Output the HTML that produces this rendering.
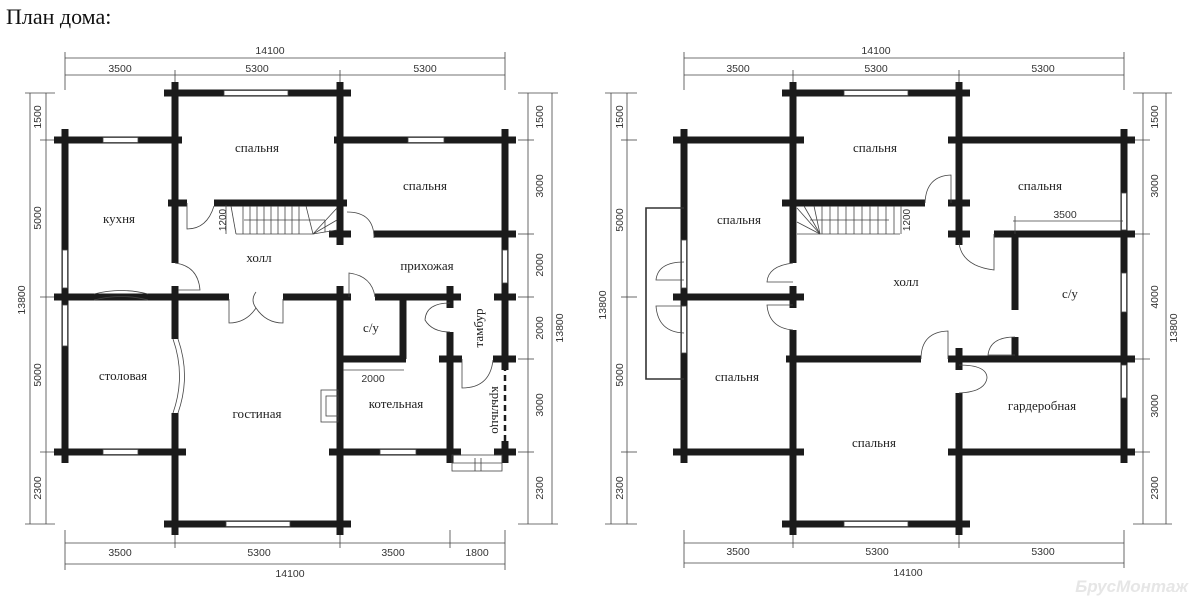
<!DOCTYPE html>
<html><head><meta charset="utf-8"><style>
html,body{margin:0;padding:0;background:#fff;width:1200px;height:603px;overflow:hidden}
svg{display:block}
.w{stroke:#1b1b1b;stroke-width:7;fill:none}
.t{stroke:#444;stroke-width:.8;fill:none}
.win{fill:#fff;stroke:#444;stroke-width:.8}
.d{font-family:"Liberation Sans",sans-serif;font-size:10.5px;fill:#333;text-anchor:middle}
.l{font-family:"Liberation Serif","DejaVu Serif",serif;font-size:13px;fill:#222;text-anchor:middle}
</style></head><body>
<svg width="1200" height="603" viewBox="0 0 1200 603" xmlns="http://www.w3.org/2000/svg">
<defs><g id="p"><rect x="-3.5" y="-11" width="7" height="22" fill="#1b1b1b"/><rect x="-11" y="-3.5" width="22" height="7" fill="#1b1b1b"/></g></defs>
<text x="6" y="24" style="font-family:'Liberation Serif',serif;font-size:22px;fill:#111">План дома:</text>

<g>
<line class="t" x1="65" y1="58" x2="505" y2="58"/><line class="t" x1="65" y1="75" x2="505" y2="75"/>
<g class="t"><line x1="65" y1="52" x2="65" y2="90"/><line x1="175" y1="70" x2="175" y2="90"/><line x1="340" y1="70" x2="340" y2="90"/><line x1="505" y1="52" x2="505" y2="90"/></g>
<text class="d" x="270" y="54">14100</text><text class="d" x="120" y="72">3500</text><text class="d" x="257" y="72">5300</text><text class="d" x="425" y="72">5300</text>
<line class="t" x1="65" y1="543" x2="505" y2="543"/><line class="t" x1="65" y1="564" x2="505" y2="564"/>
<g class="t"><line x1="65" y1="530" x2="65" y2="570"/><line x1="175" y1="530" x2="175" y2="548"/><line x1="340" y1="530" x2="340" y2="548"/><line x1="450" y1="530" x2="450" y2="548"/><line x1="505" y1="530" x2="505" y2="570"/></g>
<text class="d" x="120" y="556">3500</text><text class="d" x="259" y="556">5300</text><text class="d" x="393" y="556">3500</text><text class="d" x="477" y="556">1800</text><text class="d" x="290" y="577">14100</text>
<line class="t" x1="30" y1="93" x2="30" y2="524"/><line class="t" x1="46" y1="93" x2="46" y2="524"/>
<g class="t"><line x1="25" y1="93" x2="55" y2="93"/><line x1="40" y1="140" x2="58" y2="140"/><line x1="40" y1="297" x2="58" y2="297"/><line x1="40" y1="452" x2="58" y2="452"/><line x1="25" y1="524" x2="55" y2="524"/></g>
<g class="d"><text transform="translate(41,117) rotate(-90)">1500</text><text transform="translate(41,218) rotate(-90)">5000</text><text transform="translate(41,375) rotate(-90)">5000</text><text transform="translate(41,488) rotate(-90)">2300</text><text transform="translate(25,300) rotate(-90)">13800</text></g>
<line class="t" x1="528" y1="93" x2="528" y2="524"/><line class="t" x1="552" y1="93" x2="552" y2="524"/>
<g class="t"><line x1="518" y1="93" x2="558" y2="93"/><line x1="518" y1="140" x2="534" y2="140"/><line x1="518" y1="234" x2="534" y2="234"/><line x1="518" y1="297" x2="534" y2="297"/><line x1="518" y1="359" x2="534" y2="359"/><line x1="518" y1="452" x2="534" y2="452"/><line x1="518" y1="524" x2="558" y2="524"/></g>
<g class="d"><text transform="translate(543,117) rotate(-90)">1500</text><text transform="translate(543,186) rotate(-90)">3000</text><text transform="translate(543,265) rotate(-90)">2000</text><text transform="translate(543,328) rotate(-90)">2000</text><text transform="translate(543,405) rotate(-90)">3000</text><text transform="translate(543,488) rotate(-90)">2300</text><text transform="translate(563,328) rotate(-90)">13800</text></g>

<g class="w">
<line x1="168" y1="93" x2="347" y2="93"/>
<line x1="59" y1="140" x2="182" y2="140"/><line x1="334" y1="140" x2="513" y2="140"/>
<line x1="65" y1="140" x2="65" y2="452"/>
<line x1="175" y1="93" x2="175" y2="263"/><line x1="175" y1="290" x2="175" y2="339"/><line x1="175" y1="413" x2="175" y2="524"/>
<line x1="168" y1="203" x2="187" y2="203"/><line x1="214" y1="203" x2="347" y2="203"/>
<line x1="340" y1="93" x2="340" y2="243"/><line x1="340" y1="290" x2="340" y2="524"/>
<line x1="374" y1="234" x2="513" y2="234"/>
<line x1="505" y1="140" x2="505" y2="359"/>
<line x1="59" y1="297" x2="229" y2="297"/><line x1="283" y1="297" x2="347" y2="297"/><line x1="375" y1="297" x2="458" y2="297"/>
<line x1="403" y1="297" x2="403" y2="359"/><line x1="340" y1="359" x2="406" y2="359"/>
<line x1="450" y1="332" x2="450" y2="456"/><line x1="443" y1="359" x2="462" y2="359"/><line x1="493" y1="359" x2="513" y2="359"/>
<line x1="59" y1="452" x2="182" y2="452"/><line x1="334" y1="452" x2="457" y2="452"/><line x1="498" y1="452" x2="513" y2="452"/>
<line x1="168" y1="524" x2="347" y2="524"/>
</g>
<g>
<use href="#p" x="65" y="140"/><use href="#p" x="175" y="93"/><use href="#p" x="340" y="93"/><use href="#p" x="505" y="140"/>
<use href="#p" x="340" y="234"/><use href="#p" x="505" y="234"/><use href="#p" x="65" y="297"/><use href="#p" x="175" y="297"/>
<use href="#p" x="340" y="297"/><use href="#p" x="450" y="297"/><use href="#p" x="505" y="297"/><use href="#p" x="450" y="359"/><use href="#p" x="505" y="359"/>
<use href="#p" x="65" y="452"/><use href="#p" x="175" y="452"/><use href="#p" x="340" y="452"/><use href="#p" x="450" y="452"/><use href="#p" x="505" y="452"/>
<use href="#p" x="175" y="524"/><use href="#p" x="340" y="524"/>
</g>
<rect class="win" x="224" y="90.5" width="64" height="5"/>
<rect class="win" x="103" y="137.5" width="35" height="5"/><rect class="win" x="408" y="137.5" width="36" height="5"/>
<rect class="win" x="62.5" y="250" width="5" height="38"/><rect class="win" x="62.5" y="305" width="5" height="41"/>
<rect class="win" x="502.5" y="250" width="5" height="33"/>
<rect class="win" x="103" y="449.5" width="35" height="5"/><rect class="win" x="380" y="449.5" width="36" height="5"/>
<rect class="win" x="226" y="521.5" width="64" height="5"/>
<path class="t" d="M94 294 Q121 287 148 294 M94 300 Q121 293 148 300"/>
<path class="t" d="M173 339 Q186 376 173 413 M178 339 Q191 376 178 413"/>
<line x1="505" y1="365" x2="505" y2="448" stroke="#1b1b1b" stroke-width="2.5" stroke-dasharray="6,4"/>
<path class="t" d="M187 203 L187 229 Q207 229 214 206"/>
<path class="t" d="M175 263 Q198 266 200 290 L178 290"/>
<path class="t" d="M229 299 L229 323 Q246 323 256 308 Q266 323 283 323 L283 299 M256 308 Q250 300 256 292"/>
<path class="t" d="M347 212 Q374 212 374 238"/>
<path class="t" d="M349 297 L349 273 Q372 276 375 297"/>
<path class="t" d="M450 303 Q426 303 425 320 Q432 332 450 332"/>
<path class="t" d="M462 359 L462 388 Q490 388 493 360"/>
<g class="t">
<line x1="236" y1="234" x2="313" y2="234"/><line x1="231" y1="206" x2="236" y2="234"/><line x1="226" y1="205" x2="226" y2="234"/>
<line x1="243" y1="206" x2="243" y2="234"/><line x1="250" y1="206" x2="250" y2="234"/><line x1="257" y1="206" x2="257" y2="234"/><line x1="264" y1="206" x2="264" y2="234"/><line x1="271" y1="206" x2="271" y2="234"/><line x1="278" y1="206" x2="278" y2="234"/><line x1="285" y1="206" x2="285" y2="234"/><line x1="292" y1="206" x2="292" y2="234"/><line x1="299" y1="206" x2="299" y2="234"/>
<line x1="313" y1="234" x2="306" y2="206"/><line x1="313" y1="234" x2="337" y2="208"/><line x1="313" y1="234" x2="337" y2="220"/><line x1="313" y1="234" x2="337" y2="230"/>
<line x1="244" y1="220" x2="325" y2="220"/><line x1="325" y1="220" x2="325" y2="232"/>
</g>
<text class="d" transform="translate(226,220) rotate(-90)" style="font-size:10px">1200</text>
<line class="t" x1="343" y1="370" x2="404" y2="370"/>
<text class="d" x="373" y="382">2000</text>
<rect class="t" x="321" y="390" width="17" height="32"/><rect class="t" x="326" y="396" width="12" height="20"/>
<rect class="t" x="452" y="455" width="50" height="16"/><line class="t" x1="452" y1="463" x2="502" y2="463"/><line class="t" x1="475" y1="458" x2="475" y2="471"/><line class="t" x1="481" y1="458" x2="481" y2="471"/>
<text class="l" x="257" y="152">спальня</text><text class="l" x="425" y="190">спальня</text><text class="l" x="119" y="223">кухня</text>
<text class="l" x="259" y="262">холл</text><text class="l" x="427" y="270">прихожая</text><text class="l" x="371" y="332">с/у</text>
<text class="l" x="123" y="380">столовая</text><text class="l" x="257" y="418">гостиная</text><text class="l" x="396" y="408">котельная</text>
<text class="l" transform="translate(483,328) rotate(-90)">тамбур</text>
<text class="l" transform="translate(492,410) rotate(90)">крыльцо</text>
</g>

<g>
<line class="t" x1="684" y1="58" x2="1124" y2="58"/><line class="t" x1="684" y1="75" x2="1124" y2="75"/>
<g class="t"><line x1="684" y1="52" x2="684" y2="90"/><line x1="793" y1="70" x2="793" y2="90"/><line x1="959" y1="70" x2="959" y2="90"/><line x1="1124" y1="52" x2="1124" y2="90"/></g>
<text class="d" x="876" y="54">14100</text><text class="d" x="738" y="72">3500</text><text class="d" x="876" y="72">5300</text><text class="d" x="1043" y="72">5300</text>
<line class="t" x1="684" y1="543" x2="1124" y2="543"/><line class="t" x1="684" y1="563" x2="1124" y2="563"/>
<g class="t"><line x1="684" y1="530" x2="684" y2="568"/><line x1="793" y1="530" x2="793" y2="548"/><line x1="959" y1="530" x2="959" y2="548"/><line x1="1124" y1="530" x2="1124" y2="568"/></g>
<text class="d" x="738" y="555">3500</text><text class="d" x="877" y="555">5300</text><text class="d" x="1043" y="555">5300</text><text class="d" x="908" y="576">14100</text>
<line class="t" x1="611" y1="93" x2="611" y2="524"/><line class="t" x1="627" y1="93" x2="627" y2="524"/>
<g class="t"><line x1="605" y1="93" x2="637" y2="93"/><line x1="621" y1="140" x2="637" y2="140"/><line x1="621" y1="297" x2="637" y2="297"/><line x1="621" y1="452" x2="637" y2="452"/><line x1="605" y1="524" x2="637" y2="524"/></g>
<g class="d"><text transform="translate(623,117) rotate(-90)">1500</text><text transform="translate(623,220) rotate(-90)">5000</text><text transform="translate(623,375) rotate(-90)">5000</text><text transform="translate(623,488) rotate(-90)">2300</text><text transform="translate(606,305) rotate(-90)">13800</text></g>
<line class="t" x1="1143" y1="93" x2="1143" y2="524"/><line class="t" x1="1166" y1="93" x2="1166" y2="524"/>
<g class="t"><line x1="1133" y1="93" x2="1172" y2="93"/><line x1="1133" y1="140" x2="1150" y2="140"/><line x1="1133" y1="234" x2="1150" y2="234"/><line x1="1133" y1="359" x2="1150" y2="359"/><line x1="1133" y1="452" x2="1150" y2="452"/><line x1="1133" y1="524" x2="1172" y2="524"/></g>
<g class="d"><text transform="translate(1158,117) rotate(-90)">1500</text><text transform="translate(1158,186) rotate(-90)">3000</text><text transform="translate(1158,297) rotate(-90)">4000</text><text transform="translate(1158,406) rotate(-90)">3000</text><text transform="translate(1158,488) rotate(-90)">2300</text><text transform="translate(1177,328) rotate(-90)">13800</text></g>

<g class="w">
<line x1="786" y1="93" x2="966" y2="93"/>
<line x1="677" y1="140" x2="801" y2="140"/><line x1="952" y1="140" x2="1131" y2="140"/>
<line x1="684" y1="140" x2="684" y2="452"/>
<line x1="793" y1="93" x2="793" y2="263"/><line x1="793" y1="330" x2="793" y2="524"/>
<line x1="786" y1="203" x2="925" y2="203"/>
<line x1="959" y1="93" x2="959" y2="243"/>
<line x1="994" y1="234" x2="1131" y2="234"/>
<line x1="1015" y1="234" x2="1015" y2="310"/><line x1="1015" y1="337" x2="1015" y2="359"/>
<line x1="1124" y1="140" x2="1124" y2="452"/>
<line x1="677" y1="297" x2="801" y2="297"/>
<line x1="786" y1="359" x2="921" y2="359"/><line x1="948" y1="359" x2="1131" y2="359"/>
<line x1="959" y1="353" x2="959" y2="365"/><line x1="959" y1="393" x2="959" y2="524"/>
<line x1="677" y1="452" x2="801" y2="452"/><line x1="952" y1="452" x2="1131" y2="452"/>
<line x1="786" y1="524" x2="966" y2="524"/>
</g>
<g>
<use href="#p" x="684" y="140"/><use href="#p" x="793" y="93"/><use href="#p" x="959" y="93"/><use href="#p" x="793" y="140"/><use href="#p" x="959" y="140"/><use href="#p" x="1124" y="140"/>
<use href="#p" x="793" y="203"/><use href="#p" x="959" y="203"/><use href="#p" x="959" y="234"/><use href="#p" x="1124" y="234"/>
<use href="#p" x="684" y="297"/><use href="#p" x="793" y="297"/><use href="#p" x="959" y="359"/><use href="#p" x="1124" y="359"/>
<use href="#p" x="684" y="452"/><use href="#p" x="793" y="452"/><use href="#p" x="959" y="452"/><use href="#p" x="1124" y="452"/>
<use href="#p" x="793" y="524"/><use href="#p" x="959" y="524"/>
</g>
<rect class="win" x="844" y="90.5" width="64" height="5"/><rect class="win" x="844" y="521.5" width="64" height="5"/>
<rect class="win" x="681.5" y="240" width="5" height="48"/><rect class="win" x="681.5" y="306" width="5" height="47"/>
<rect class="win" x="1121.5" y="193" width="5" height="37"/><rect class="win" x="1121.5" y="273" width="5" height="39"/><rect class="win" x="1121.5" y="365" width="5" height="33"/>
<path d="M684 208 L646 208 L646 379 L684 379" fill="none" stroke="#333" stroke-width="1.6"/>
<path class="t" d="M684 262 Q658 262 656 280 L684 280 M684 306 L656 306 Q658 332 684 333"/>
<path class="t" d="M793 263 Q768 266 767 282 L793 282 M793 305 L767 305 Q769 328 793 330"/>
<path class="t" d="M925 203 Q926 176 951 175 L951 203"/>
<path class="t" d="M959 243 Q962 266 994 270 L994 234"/>
<path class="t" d="M1015 337 Q990 337 988 355 L1015 355"/>
<path class="t" d="M921 359 Q921 332 948 331 L948 359"/>
<path class="t" d="M959 365 Q987 365 987 378 Q985 392 959 393"/>
<g class="t">
<line x1="797" y1="234" x2="900" y2="234"/>
<line x1="822" y1="206" x2="822" y2="234"/><line x1="830" y1="206" x2="830" y2="234"/><line x1="838" y1="206" x2="838" y2="234"/><line x1="846" y1="206" x2="846" y2="234"/><line x1="854" y1="206" x2="854" y2="234"/><line x1="862" y1="206" x2="862" y2="234"/><line x1="870" y1="206" x2="870" y2="234"/><line x1="878" y1="206" x2="878" y2="234"/><line x1="886" y1="206" x2="886" y2="234"/><line x1="894" y1="206" x2="894" y2="234"/>
<line x1="820" y1="234" x2="797" y2="208"/><line x1="820" y1="234" x2="804" y2="206"/><line x1="820" y1="234" x2="814" y2="206"/><line x1="820" y1="234" x2="797" y2="222"/>
<line x1="810" y1="220" x2="889" y2="220"/><line x1="901" y1="206" x2="901" y2="234"/>
</g>
<text class="d" transform="translate(910,220) rotate(-90)" style="font-size:10px">1200</text>
<line class="t" x1="1013" y1="221" x2="1123" y2="221"/><line class="t" x1="1015" y1="216" x2="1015" y2="234"/>
<text class="d" x="1065" y="218">3500</text>
<text class="l" x="875" y="152">спальня</text><text class="l" x="1040" y="190">спальня</text><text class="l" x="739" y="224">спальня</text>
<text class="l" x="906" y="286">холл</text><text class="l" x="1070" y="298">с/у</text><text class="l" x="737" y="381">спальня</text>
<text class="l" x="1042" y="410">гардеробная</text><text class="l" x="874" y="447">спальня</text>
</g>
<text x="1188" y="592" style="font-family:'Liberation Sans',sans-serif;font-size:17px;font-style:italic;font-weight:bold;fill:#e6e6e6;text-anchor:end">БрусМонтаж</text>
</svg>
</body></html>
